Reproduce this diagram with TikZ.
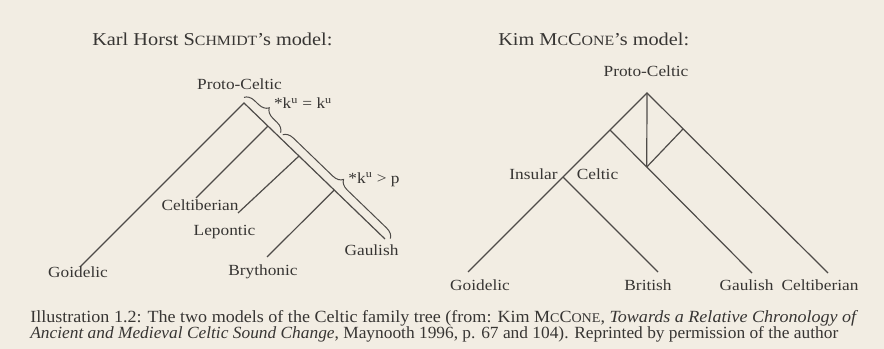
\documentclass[tikz,border=0pt]{standalone}
\usepackage{fontspec}
\usepackage{graphicx}
\setmainfont{Liberation Serif}
\newfontfamily\lbl[FakeStretch=1.12]{Liberation Serif}
\usetikzlibrary{decorations.pathreplacing,calc}
\definecolor{paper}{RGB}{242,237,227}
\definecolor{ink}{RGB}{55,53,51}
\definecolor{wire}{RGB}{78,75,72}
\newcommand{\fsc}[1]{\scalebox{0.78}{#1}}
\begin{document}
\begin{tikzpicture}[x=0.75pt,y=-0.75pt,
  lab/.style={font=\lbl\fontsize{11.6}{13}\selectfont, text=ink, inner sep=0pt, anchor=base},
  ttl/.style={font=\lbl\fontsize{13.6}{15}\selectfont, text=ink, inner sep=0pt, anchor=base west},
  captxt/.style={font=\fontsize{12.8}{15}\selectfont, text=ink, inner sep=0pt, anchor=base west},
  edge/.style={line width=0.9pt, draw=wire},
  br/.style={line width=0.75pt, draw=wire, decorate, decoration={brace, amplitude=7.5pt}}]
\fill[paper] (0,0) rectangle (884,349);
\useasboundingbox (0,0) rectangle (884,349);

% titles
\node[ttl] (t1) at (92,46) {Karl Horst S\fsc{CHMIDT}’s model:};
\node[ttl] (t2) at (498,46) {Kim M\fsc{C}C\fsc{ONE}’s model:};

% left tree
\coordinate (LA) at (244,103);
\coordinate (LG) at (80,267);
\coordinate (LE) at (385,239);
\coordinate (LJ1) at ($(LA)!0.17!(LE)$);
\coordinate (LC) at (196,198);
\coordinate (LJ2) at ($(LA)!0.39!(LE)$);
\coordinate (LL) at (238,213);
\coordinate (LJ3) at ($(LA)!0.64!(LE)$);
\coordinate (LB) at (267,257);
\draw[edge] (LG) -- (LA) -- (LE);
\draw[edge] (LJ1) -- (LC);
\draw[edge] (LJ2) -- (LL);
\draw[edge] (LJ3) -- (LB);
\coordinate (B1s) at ($(LA)!-0.02!(LE)+(2.8,-2.9)$);
\coordinate (B1e) at ($(LA)!0.24!(LE)+(2.8,-2.9)$);
\coordinate (B2s) at ($(LA)!0.255!(LE)+(2.8,-2.9)$);
\coordinate (B2e) at ($(LA)!1.02!(LE)+(2.8,-2.9)$);
\draw[br] (B1s) -- (B1e);
\draw[br] (B2s) -- (B2e);

\node[lab] (lpc) at (239.5,90) {Proto-Celtic};
\node[lab] (lkk) at (303,109) {*k\textsuperscript{u} = k\textsuperscript{u}};
\node[lab] (lkp) at (374,183) {*k\textsuperscript{u} > p};
\node[lab] (lcb) at (200,210) {Celtiberian};
\node[lab] (llp) at (224.5,235) {Lepontic};
\node[lab] (lga) at (371.5,255) {Gaulish};
\node[lab] (lgo) at (78,277) {Goidelic};
\node[lab] (lby) at (263,275) {Brythonic};

% right tree
\coordinate (RA) at (647,93);
\coordinate (RG) at (468,272);
\coordinate (RC) at (828,273);
\coordinate (RJg) at (610,130);
\coordinate (RGa) at (752,273);
\coordinate (RV) at ($(RJg)!0.2587!(RGa)$);
\coordinate (RX) at (683,129);
\coordinate (RI) at (563,177);
\coordinate (RB) at (658,272);
\draw[edge] (RG) -- (RA) -- (RC);
\draw[edge] (RA) -- (RV);
\draw[edge] (RJg) -- (RGa);
\draw[edge] (RV) -- (RX);
\draw[edge] (RI) -- (RB);

\node[lab] (rpc) at (646,77) {Proto-Celtic};
\node[lab] (rins) at (533.5,180) {Insular};
\node[lab] (rcel) at (597.5,180) {Celtic};
\node[lab] (rgo) at (480,290) {Goidelic};
\node[lab] (rbr) at (648,290) {British};
\node[lab] (rga) at (746.5,290) {Gaulish};
\node[lab] (rce) at (820,290) {Celtiberian};

% caption
\node[captxt] (c1) at (30,322) {\resizebox{621pt}{\height}{Illustration 1.2: The two models of the Celtic family tree (from: Kim M\fsc{C}C\fsc{ONE}, \textit{Towards a Relative Chronology of}}};
\node[captxt] (c2) at (30,338) {\resizebox{606pt}{\height}{\textit{Ancient and Medieval Celtic Sound Change}, Maynooth 1996, p. 67 and 104). Reprinted by permission of the author}};
\end{tikzpicture}
\end{document}
